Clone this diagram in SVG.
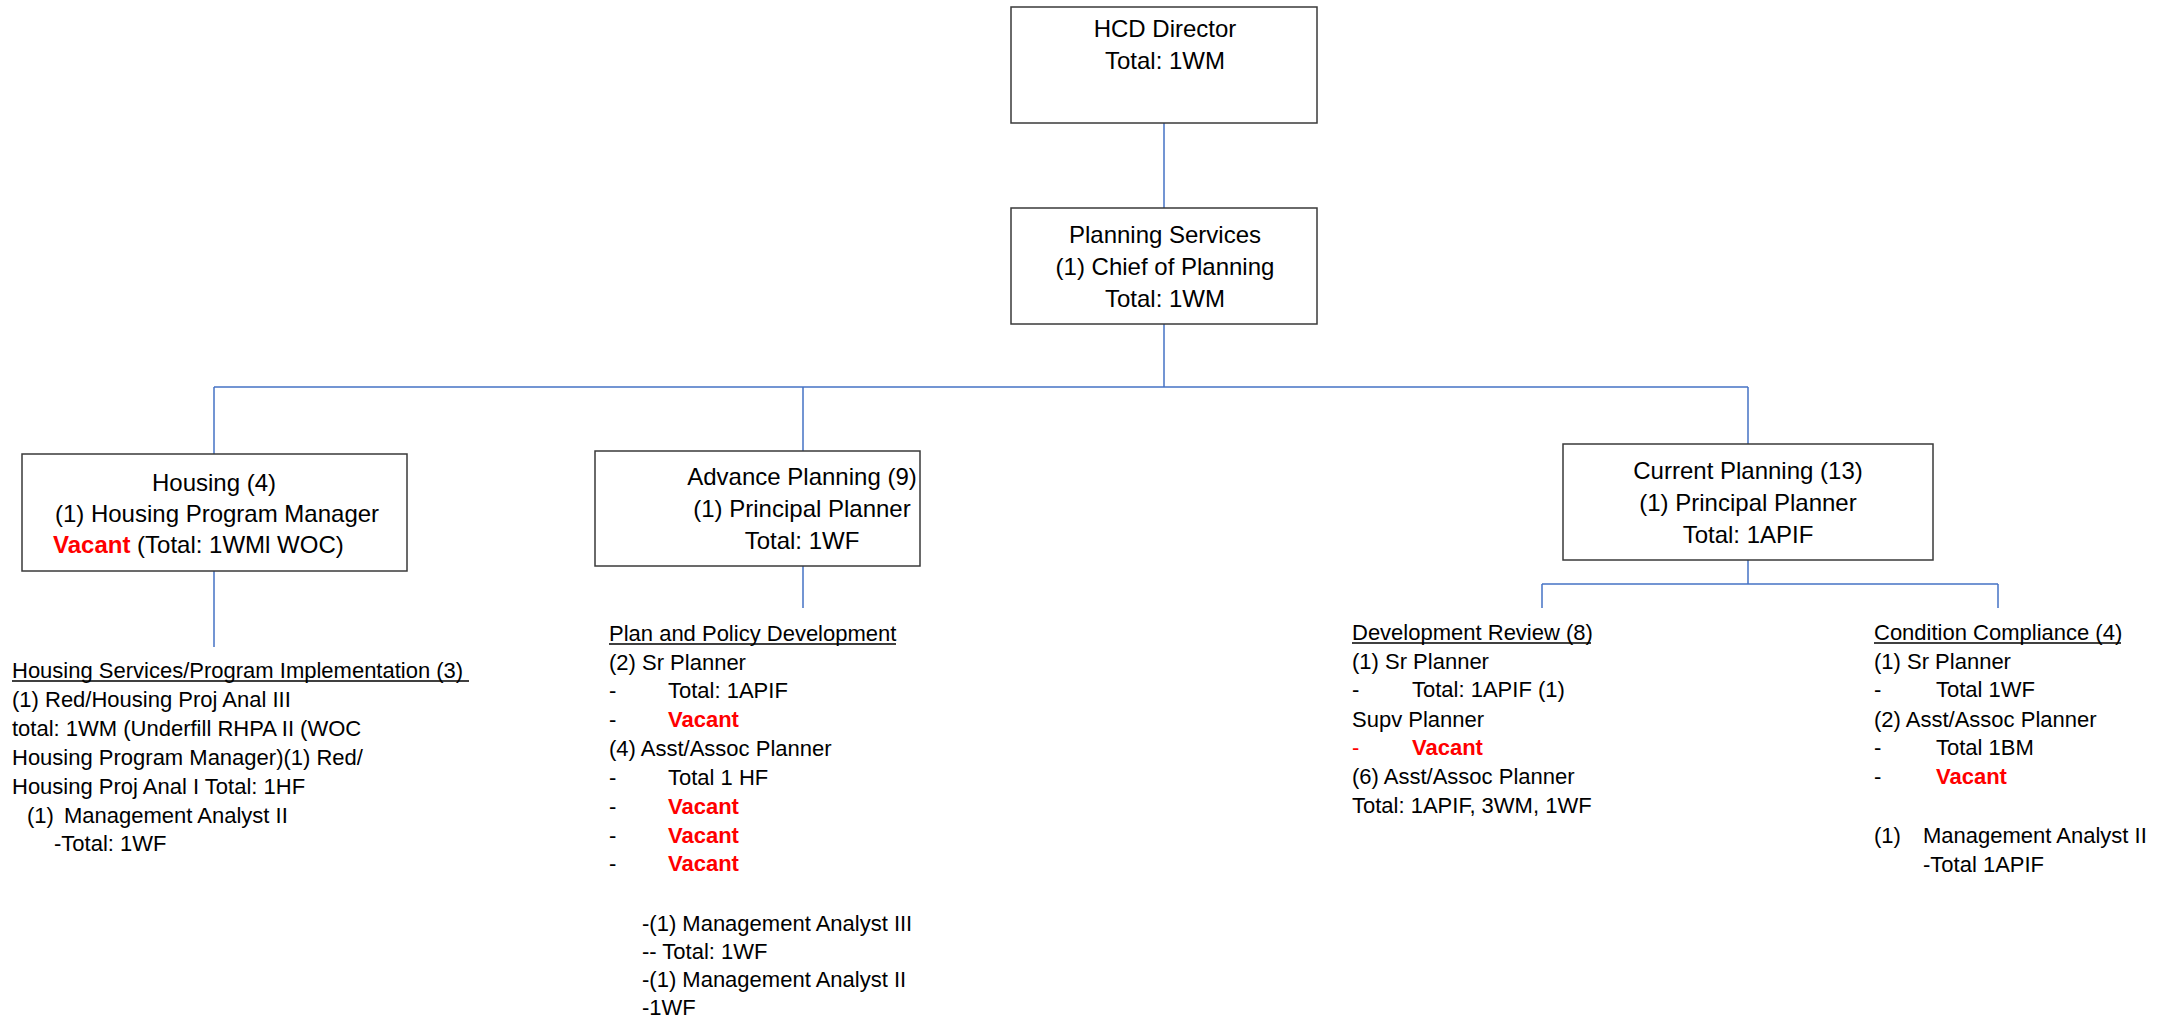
<svg xmlns="http://www.w3.org/2000/svg" width="2164" height="1021" viewBox="0 0 2164 1021">
<style>
.box{fill:#fff;stroke:#3a3a3a;stroke-width:1.5}
.conn{stroke:#4472C4;stroke-width:1.5;fill:none}
.bt{font-family:"Liberation Sans",Arial,sans-serif;font-size:24px;fill:#000}
.lt{font-family:"Liberation Sans",Arial,sans-serif;font-size:22px;fill:#000}
.c{text-anchor:middle}
.v{fill:#FF0000;font-weight:bold}
.r{fill:#FF0000}
.ul{stroke:#000;stroke-width:1.3}
</style>
<rect width="2164" height="1021" fill="#fff"/>
<g id="connectors">
<line class="conn" x1="1164" y1="123" x2="1164" y2="208"/>
<line class="conn" x1="1164" y1="324" x2="1164" y2="387"/>
<line class="conn" x1="214" y1="387" x2="1748" y2="387"/>
<line class="conn" x1="214" y1="387" x2="214" y2="454"/>
<line class="conn" x1="803" y1="387" x2="803" y2="451"/>
<line class="conn" x1="1748" y1="387" x2="1748" y2="444"/>
<line class="conn" x1="214" y1="571" x2="214" y2="647"/>
<line class="conn" x1="803" y1="566" x2="803" y2="608"/>
<line class="conn" x1="1748" y1="560" x2="1748" y2="584"/>
<line class="conn" x1="1542" y1="584" x2="1998" y2="584"/>
<line class="conn" x1="1542" y1="584" x2="1542" y2="608"/>
<line class="conn" x1="1998" y1="584" x2="1998" y2="608"/>
</g>
<g id="hcd-director">
<rect class="box" x="1011" y="7" width="306" height="116"/>
<text class="bt c" x="1165" y="37">HCD Director</text>
<text class="bt c" x="1165" y="69">Total: 1WM</text>
</g>
<g id="planning-services">
<rect class="box" x="1011" y="208" width="306" height="116"/>
<text class="bt c" x="1165" y="243">Planning Services</text>
<text class="bt c" x="1165" y="275">(1) Chief of Planning</text>
<text class="bt c" x="1165" y="307">Total: 1WM</text>
</g>
<g id="housing">
<rect class="box" x="22" y="454" width="385" height="117"/>
<text class="bt c" x="214" y="491">Housing (4)</text>
<text class="bt c" x="217" y="522">(1) Housing Program Manager</text>
<text class="bt" x="53" y="553"><tspan class="v">Vacant</tspan> (Total: 1WMl WOC)</text>
</g>
<g id="advance-planning">
<rect class="box" x="595" y="451" width="325" height="115"/>
<text class="bt c" x="802" y="485">Advance Planning (9)</text>
<text class="bt c" x="802" y="517">(1) Principal Planner</text>
<text class="bt c" x="802" y="549">Total: 1WF</text>
</g>
<g id="current-planning">
<rect class="box" x="1563" y="444" width="370" height="116"/>
<text class="bt c" x="1748" y="479">Current Planning (13)</text>
<text class="bt c" x="1748" y="511">(1) Principal Planner</text>
<text class="bt c" x="1748" y="543">Total: 1APIF</text>
</g>
<g id="housing-services">
<text class="lt" x="12" y="678">Housing Services/Program Implementation (3)</text>
<line class="ul" x1="12" y1="681" x2="469" y2="681"/>
<text class="lt" x="12" y="707">(1) Red/Housing Proj Anal III</text>
<text class="lt" x="12" y="736">total: 1WM (Underfill RHPA II (WOC</text>
<text class="lt" x="12" y="765">Housing Program Manager)(1) Red/</text>
<text class="lt" x="12" y="794">Housing Proj Anal I Total: 1HF</text>
<text class="lt" x="27" y="823">(1)</text>
<text class="lt" x="64" y="823">Management Analyst II</text>
<text class="lt" x="54" y="851">-Total: 1WF</text>
</g>
<g id="plan-policy-development">
<text class="lt" x="609" y="641">Plan and Policy Development</text>
<line class="ul" x1="609" y1="644" x2="896" y2="644"/>
<text class="lt" x="609" y="670">(2) Sr Planner</text>
<text class="lt" x="609" y="698">-</text><text class="lt" x="668" y="698">Total: 1APIF</text>
<text class="lt" x="609" y="727">-</text><text class="lt v" x="668" y="727">Vacant</text>
<text class="lt" x="609" y="756">(4) Asst/Assoc Planner</text>
<text class="lt" x="609" y="785">-</text><text class="lt" x="668" y="785">Total 1 HF</text>
<text class="lt" x="609" y="814">-</text><text class="lt v" x="668" y="814">Vacant</text>
<text class="lt" x="609" y="843">-</text><text class="lt v" x="668" y="843">Vacant</text>
<text class="lt" x="609" y="871">-</text><text class="lt v" x="668" y="871">Vacant</text>
<text class="lt" x="642" y="931">-(1) Management Analyst III</text>
<text class="lt" x="642" y="959">-- Total: 1WF</text>
<text class="lt" x="642" y="987">-(1) Management Analyst II</text>
<text class="lt" x="642" y="1015">-1WF</text>
</g>
<g id="development-review">
<text class="lt" x="1352" y="640">Development Review (8)</text>
<line class="ul" x1="1352" y1="643" x2="1591" y2="643"/>
<text class="lt" x="1352" y="669">(1) Sr Planner</text>
<text class="lt" x="1352" y="697">-</text><text class="lt" x="1412" y="697">Total: 1APIF (1)</text>
<text class="lt" x="1352" y="727">Supv Planner</text>
<text class="lt r" x="1352" y="755">-</text><text class="lt v" x="1412" y="755">Vacant</text>
<text class="lt" x="1352" y="784">(6) Asst/Assoc Planner</text>
<text class="lt" x="1352" y="813">Total: 1APIF, 3WM, 1WF</text>
</g>
<g id="condition-compliance">
<text class="lt" x="1874" y="640">Condition Compliance (4)</text>
<line class="ul" x1="1874" y1="643" x2="2121" y2="643"/>
<text class="lt" x="1874" y="669">(1) Sr Planner</text>
<text class="lt" x="1874" y="697">-</text><text class="lt" x="1936" y="697">Total 1WF</text>
<text class="lt" x="1874" y="727">(2) Asst/Assoc Planner</text>
<text class="lt" x="1874" y="755">-</text><text class="lt" x="1936" y="755">Total 1BM</text>
<text class="lt" x="1874" y="784">-</text><text class="lt v" x="1936" y="784">Vacant</text>
<text class="lt" x="1874" y="843">(1)</text><text class="lt" x="1923" y="843">Management Analyst II</text>
<text class="lt" x="1923" y="872">-Total 1APIF</text>
</g>
</svg>
